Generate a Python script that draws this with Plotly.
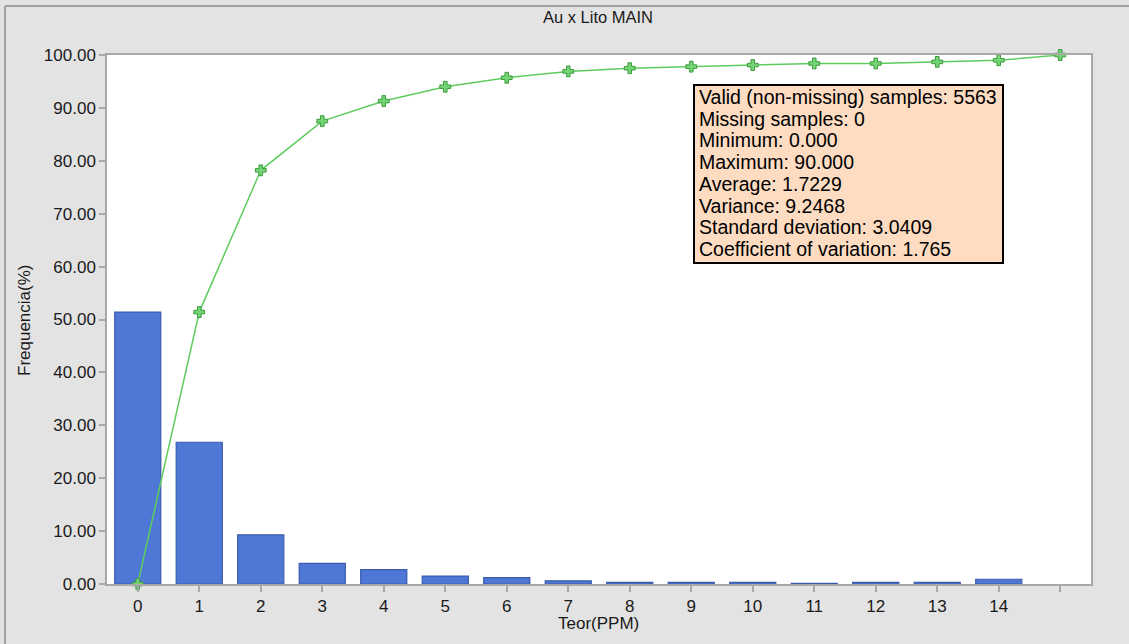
import plotly.graph_objects as go

categories = list(range(15))
tick_labels = [str(i) for i in range(15)] + [""]
freq = [51.4, 26.8, 9.3, 3.9, 2.7, 1.5, 1.2, 0.6, 0.3, 0.3, 0.3, 0.1, 0.3, 0.3, 0.9]
cum_x = list(range(16))
cum = [0.0, 51.4, 78.2, 87.5, 91.3, 94.0, 95.7, 96.9, 97.5, 97.8, 98.1, 98.4, 98.4, 98.7, 99.0, 100.0]
stats_lines = [
    "Valid (non-missing) samples: 5563",
    "Missing samples: 0",
    "Minimum: 0.000",
    "Maximum: 90.000",
    "Average: 1.7229",
    "Variance: 9.2468",
    "Standard deviation: 3.0409",
    "Coefficient of variation: 1.765",
]

W, H = 1129, 644
L, R, T, B = 107, 38, 55, 60
pw, ph = W - L - R, H - T - B

def px(x):
    return (x - L) / pw

def py(y):
    return (H - B - y) / ph

FONT = "Liberation Sans, Arial, sans-serif"

fig = go.Figure()
fig.add_trace(go.Bar(
    x=categories, y=freq, width=0.75,
    marker=dict(color="#4f78d6", line=dict(color="#3b5cae", width=1.2)),
    showlegend=False, hoverinfo="x+y",
))
fig.add_trace(go.Scatter(
    x=cum_x, y=cum, mode="lines+markers",
    line=dict(color="#5ecd5e", width=1.5),
    marker=dict(symbol="cross", size=9, color="#72d472",
                line=dict(color="#3f9a3f", width=1)),
    showlegend=False, cliponaxis=False,
))

annotations = [
    dict(text="Au x Lito MAIN", xref="paper", yref="paper", x=px(598), y=py(17),
         xanchor="center", yanchor="middle", showarrow=False,
         font=dict(size=16.5, family=FONT, color="#1a1a1a")),
    dict(text="Teor(PPM)", xref="paper", yref="paper", x=px(598), y=py(623),
         xanchor="center", yanchor="middle", showarrow=False,
         font=dict(size=17, family=FONT, color="#1a1a1a")),
    dict(text="Frequencia(%)", xref="paper", yref="paper", x=px(24), y=py(320),
         xanchor="center", yanchor="middle", showarrow=False, textangle=-90,
         font=dict(size=17, family=FONT, color="#1a1a1a")),
]
for i, line in enumerate(stats_lines):
    annotations.append(dict(
        text=line, xref="paper", yref="paper", x=px(697), y=py(97 + 21.7 * i),
        xanchor="left", yanchor="middle", showarrow=False, align="left",
        font=dict(size=19.5, family=FONT, color="#000000"),
    ))

fig.update_layout(
    width=W, height=H,
    margin=dict(l=L, r=R, t=T, b=B),
    paper_bgcolor="#e3e3e3",
    plot_bgcolor="#ffffff",
    font=dict(family=FONT, size=17, color="#1a1a1a"),
    xaxis=dict(
        range=[-0.5, 15.5], tickmode="array", tickvals=cum_x, ticktext=tick_labels,
        showgrid=False, zeroline=False, showline=True, linecolor="#a8a8a8",
        linewidth=1.5, mirror=True, ticks="outside", ticklen=6, tickcolor="#a8a8a8",
        tickwidth=1.5, tickfont=dict(size=17),
    ),
    yaxis=dict(
        range=[0, 100], tickmode="array", tickvals=list(range(0, 101, 10)),
        ticktext=[f"{v:.2f}" for v in range(0, 101, 10)],
        showgrid=False, zeroline=False, showline=True, linecolor="#a8a8a8",
        linewidth=1.5, mirror=True, ticks="outside", ticklen=6, tickcolor="#a8a8a8",
        tickwidth=1.5, tickfont=dict(size=17),
    ),
    shapes=[
        dict(type="line", xref="paper", yref="paper",
             x0=px(5), x1=px(5), y0=py(6), y1=py(H + 10),
             line=dict(color="#a0a0a0", width=2)),
        dict(type="line", xref="paper", yref="paper",
             x0=px(5), x1=px(W + 10), y0=py(6), y1=py(6),
             line=dict(color="#a0a0a0", width=2)),
        dict(type="rect", xref="paper", yref="paper",
             x0=px(694), x1=px(1003), y0=py(85), y1=py(263),
             fillcolor="#fddcc2", line=dict(color="#000000", width=2), layer="above"),
    ],
    annotations=annotations,
)

fig.write_html("out.html")
